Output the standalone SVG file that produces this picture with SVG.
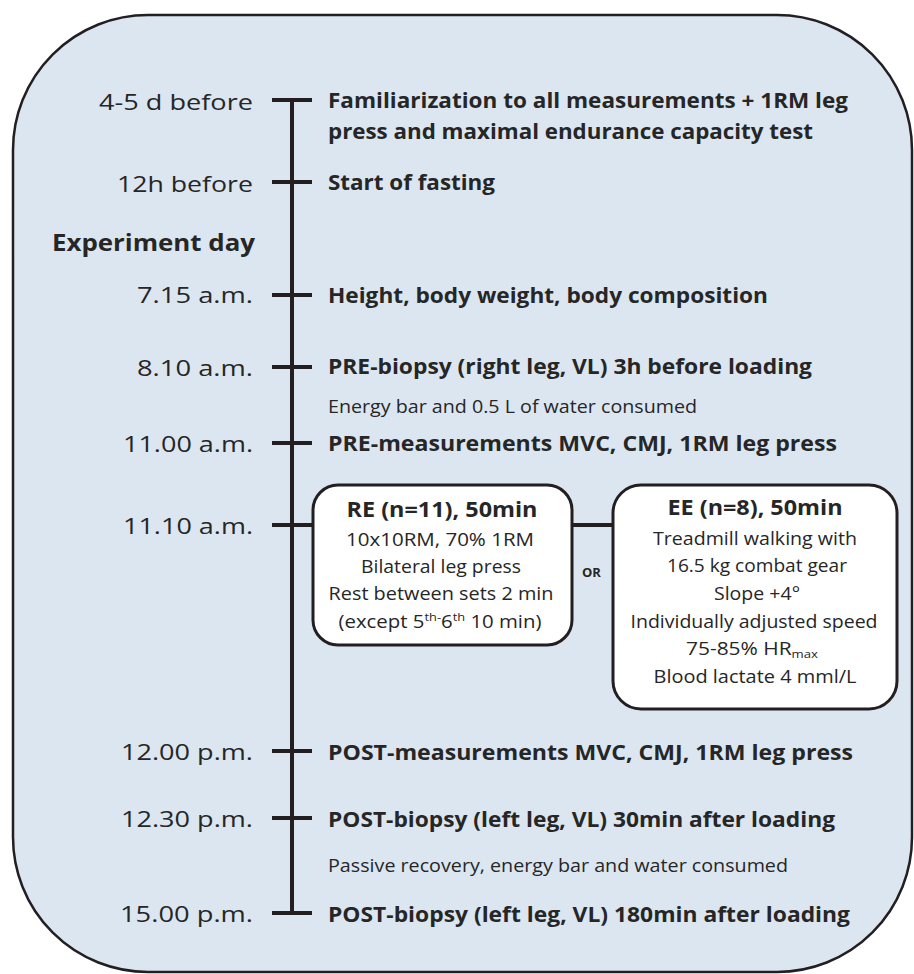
<svg xmlns="http://www.w3.org/2000/svg" width="914" height="974" viewBox="0 0 914 974">
<style>
.lbl{font-family:"Open Sans","Noto Sans",sans-serif;font-size:22.5px;fill:#262626;text-anchor:end}
.ev{font-family:"Open Sans","Noto Sans",sans-serif;font-size:21px;font-weight:bold;fill:#262626}
.note{font-family:"Open Sans","Noto Sans",sans-serif;font-size:17.5px;fill:#262626}
.ttl{font-family:"Open Sans","Noto Sans",sans-serif;font-size:20.5px;font-weight:bold;fill:#262626;text-anchor:middle}
.body{font-family:"Open Sans","Noto Sans",sans-serif;font-size:17.5px;fill:#262626;text-anchor:middle}
.or{font-family:"Open Sans","Noto Sans",sans-serif;font-size:13px;font-weight:bold;fill:#262626}
.ln{stroke:#231f20;stroke-width:4;fill:none}
.box{fill:#ffffff;stroke:#231f20;stroke-width:3}
</style>
<rect id="frame" x="13" y="15" width="899" height="957" rx="135" ry="135" fill="#dce6f1" stroke="#231f20" stroke-width="2.5"/>
<g id="connectors">
<line class="ln" x1="292" y1="98" x2="292" y2="915"/>
<line class="ln" x1="272" y1="100" x2="312" y2="100"/>
<line class="ln" x1="272" y1="182" x2="312" y2="182"/>
<line class="ln" x1="272" y1="295" x2="312" y2="295"/>
<line class="ln" x1="272" y1="367" x2="312" y2="367"/>
<line class="ln" x1="272" y1="443" x2="312" y2="443"/>
<line class="ln" x1="272" y1="525" x2="313" y2="525"/>
<line class="ln" x1="572" y1="525" x2="613" y2="525"/>
<line class="ln" x1="272" y1="751" x2="312" y2="751"/>
<line class="ln" x1="272" y1="818" x2="312" y2="818"/>
<line class="ln" x1="272" y1="913" x2="312" y2="913"/>
</g>
<g id="ev1">
<text class="lbl" x="253" y="110" textLength="154" lengthAdjust="spacingAndGlyphs">4-5 d before</text>
<text class="ev" x="328" y="108" textLength="520" lengthAdjust="spacingAndGlyphs">Familiarization to all measurements + 1RM leg</text>
<text class="ev" x="328" y="139" textLength="485" lengthAdjust="spacingAndGlyphs">press and maximal endurance capacity test</text>
</g>
<g id="ev2">
<text class="lbl" x="253" y="192" textLength="136" lengthAdjust="spacingAndGlyphs">12h before</text>
<text class="ev" x="328" y="190" textLength="167" lengthAdjust="spacingAndGlyphs">Start of fasting</text>
</g>
<g id="expday">
<text class="lbl" x="255" y="251" font-weight="bold" textLength="203" lengthAdjust="spacingAndGlyphs">Experiment day</text>
</g>
<g id="ev3">
<text class="lbl" x="253" y="303" textLength="116" lengthAdjust="spacingAndGlyphs">7.15 a.m.</text>
<text class="ev" x="328" y="303" textLength="440" lengthAdjust="spacingAndGlyphs">Height, body weight, body composition</text>
</g>
<g id="ev4">
<text class="lbl" x="253" y="376" textLength="116" lengthAdjust="spacingAndGlyphs">8.10 a.m.</text>
<text class="ev" x="328" y="374" textLength="484" lengthAdjust="spacingAndGlyphs">PRE-biopsy (right leg, VL) 3h before loading</text>
<text class="note" x="328" y="413" textLength="369" lengthAdjust="spacingAndGlyphs">Energy bar and 0.5 L of water consumed</text>
</g>
<g id="ev5">
<text class="lbl" x="253" y="452" textLength="130" lengthAdjust="spacingAndGlyphs">11.00 a.m.</text>
<text class="ev" x="328" y="451" textLength="509" lengthAdjust="spacingAndGlyphs">PRE-measurements MVC, CMJ, 1RM leg press</text>
</g>
<g id="ev6">
<text class="lbl" x="253" y="534" textLength="130" lengthAdjust="spacingAndGlyphs">11.10 a.m.</text>
</g>
<g id="re">
<rect class="box" x="313" y="485" width="259" height="160" rx="25" ry="25"/>
<text class="ttl" x="442" y="517" textLength="191" lengthAdjust="spacingAndGlyphs">RE (n=11), 50min</text>
<text class="body" x="440" y="546" textLength="188" lengthAdjust="spacingAndGlyphs">10x10RM, 70% 1RM</text>
<text class="body" x="441" y="573" textLength="160" lengthAdjust="spacingAndGlyphs">Bilateral leg press</text>
<text class="body" x="441" y="600" textLength="225" lengthAdjust="spacingAndGlyphs">Rest between sets 2 min</text>
<text class="body" x="440" y="628" textLength="203" lengthAdjust="spacingAndGlyphs">(except 5<tspan font-size="11" dy="-7">th-</tspan><tspan dy="7">6</tspan><tspan font-size="11" dy="-7">th</tspan><tspan dy="7"> 10 min)</tspan></text>
</g>
<g id="or">
<text class="or" x="582" y="577">OR</text>
</g>
<g id="ee">
<rect class="box" x="613" y="485" width="284" height="224" rx="28" ry="28"/>
<text class="ttl" x="755" y="515" textLength="175" lengthAdjust="spacingAndGlyphs">EE (n=8), 50min</text>
<text class="body" x="755" y="545" textLength="204" lengthAdjust="spacingAndGlyphs">Treadmill walking with</text>
<text class="body" x="757" y="572" textLength="180" lengthAdjust="spacingAndGlyphs">16.5 kg combat gear</text>
<text class="body" x="757" y="600" textLength="86" lengthAdjust="spacingAndGlyphs">Slope +4°</text>
<text class="body" x="754" y="628" textLength="247" lengthAdjust="spacingAndGlyphs">Individually adjusted speed</text>
<text class="body" x="752" y="655" textLength="132" lengthAdjust="spacingAndGlyphs">75-85% HR<tspan font-size="11" dy="2.5">max</tspan></text>
<text class="body" x="755" y="683" textLength="203" lengthAdjust="spacingAndGlyphs">Blood lactate 4 mml/L</text>
</g>
<g id="ev7">
<text class="lbl" x="253" y="760" textLength="132" lengthAdjust="spacingAndGlyphs">12.00 p.m.</text>
<text class="ev" x="328" y="760" textLength="525" lengthAdjust="spacingAndGlyphs">POST-measurements MVC, CMJ, 1RM leg press</text>
</g>
<g id="ev8">
<text class="lbl" x="253" y="827" textLength="132" lengthAdjust="spacingAndGlyphs">12.30 p.m.</text>
<text class="ev" x="328" y="827" textLength="507" lengthAdjust="spacingAndGlyphs">POST-biopsy (left leg, VL) 30min after loading</text>
<text class="note" x="328" y="872" textLength="460" lengthAdjust="spacingAndGlyphs">Passive recovery, energy bar and water consumed</text>
</g>
<g id="ev9">
<text class="lbl" x="253" y="922" textLength="133" lengthAdjust="spacingAndGlyphs">15.00 p.m.</text>
<text class="ev" x="328" y="922" textLength="522" lengthAdjust="spacingAndGlyphs">POST-biopsy (left leg, VL) 180min after loading</text>
</g>
</svg>
